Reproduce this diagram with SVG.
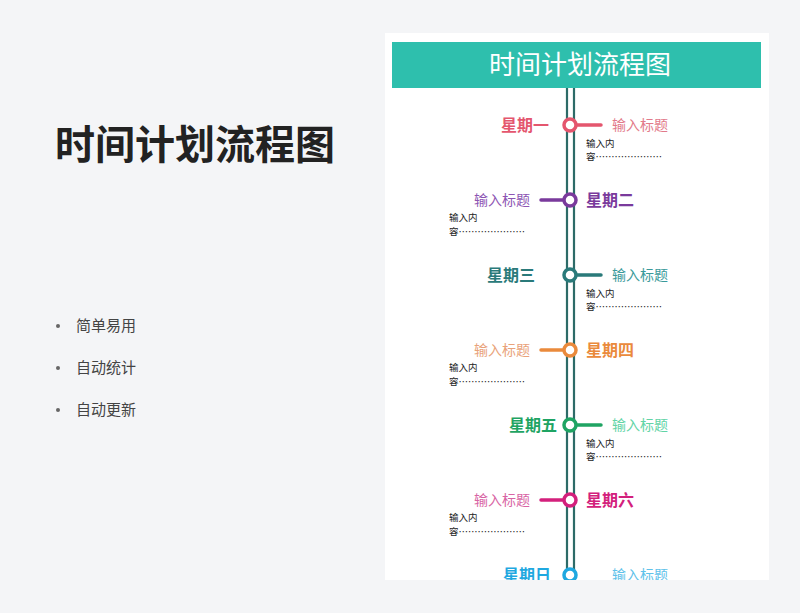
<svg xmlns="http://www.w3.org/2000/svg" width="800" height="613" viewBox="0 0 800 613">
<defs>
<style>
text{font-family:"Noto Sans CJK SC","Noto Sans",sans-serif}
.day{font-size:16px;font-weight:bold}
.tt{font-size:14px}
.ct{font-size:9.5px;fill:#222}
.rail{stroke:#2d6b68;stroke-width:2.2}
.dot{fill:#fff;stroke-width:3.5}
.stem{stroke-width:3.5;stroke-linecap:round}
</style>
<clipPath id="card"><rect x="385" y="33" width="384" height="547"/></clipPath>
</defs>
<rect width="800" height="613" fill="#f4f5f7"/>
<g id="left">
<text x="55" y="159" font-size="40" font-weight="bold" fill="#222">时间计划流程图</text>
<g font-size="15" fill="#444">
<circle cx="58" cy="326" r="2" fill="#666"/><text x="76" y="331">简单易用</text>
<circle cx="58" cy="368" r="2" fill="#666"/><text x="76" y="373">自动统计</text>
<circle cx="58" cy="410" r="2" fill="#666"/><text x="76" y="415">自动更新</text>
</g>
</g>
<rect x="385" y="33" width="384" height="547" fill="#fff"/>
<g clip-path="url(#card)">
<g id="header"><rect x="392" y="42" width="369" height="46" fill="#2ebfad"/>
<text x="580" y="74" font-size="26" fill="#fff" text-anchor="middle">时间计划流程图</text></g>
<g id="connectors">
<line class="rail" x1="567" y1="88" x2="567" y2="580"/>
<line class="rail" x1="574" y1="88" x2="574" y2="580"/>
</g>
<g id="mon"><line class="stem" x1="577" y1="125" x2="601" y2="125" stroke="#e4566e"/><circle class="dot" cx="570" cy="125" r="6" stroke="#e4566e"/>
<text class="day" x="549" y="131" text-anchor="end" fill="#e4566e">星期一</text><text class="tt" x="612" y="130" fill="#e27a8a">输入标题</text>
<text class="ct" x="586" y="147">输入内</text><text class="ct" x="586" y="160">容…………………</text></g>
<g id="tue"><line class="stem" x1="541" y1="200" x2="563" y2="200" stroke="#7a3a9c"/><circle class="dot" cx="570" cy="200" r="6" stroke="#7a3a9c"/>
<text class="day" x="586" y="206" fill="#7a3a9c">星期二</text><text class="tt" x="530" y="205" text-anchor="end" fill="#8d55b3">输入标题</text>
<text class="ct" x="449" y="221">输入内</text><text class="ct" x="449" y="235">容…………………</text></g>
<g id="wed"><line class="stem" x1="577" y1="275" x2="601" y2="275" stroke="#2a7a7a"/><circle class="dot" cx="570" cy="275" r="6" stroke="#2a7a7a"/>
<text class="day" x="535" y="281" text-anchor="end" fill="#2a7a7a">星期三</text><text class="tt" x="612" y="280" fill="#3a9a9a">输入标题</text>
<text class="ct" x="586" y="297">输入内</text><text class="ct" x="586" y="310">容…………………</text></g>
<g id="thu"><line class="stem" x1="541" y1="350" x2="563" y2="350" stroke="#ea8a3c"/><circle class="dot" cx="570" cy="350" r="6" stroke="#ea8a3c"/>
<text class="day" x="586" y="356" fill="#ea8a3c">星期四</text><text class="tt" x="530" y="355" text-anchor="end" fill="#e9a27a">输入标题</text>
<text class="ct" x="449" y="371">输入内</text><text class="ct" x="449" y="385">容…………………</text></g>
<g id="fri"><line class="stem" x1="577" y1="425" x2="601" y2="425" stroke="#1fa463"/><circle class="dot" cx="570" cy="425" r="6" stroke="#1fa463"/>
<text class="day" x="557" y="431" text-anchor="end" fill="#1fa463">星期五</text><text class="tt" x="612" y="430" fill="#62d4a6">输入标题</text>
<text class="ct" x="586" y="447">输入内</text><text class="ct" x="586" y="460">容…………………</text></g>
<g id="sat"><line class="stem" x1="541" y1="500" x2="563" y2="500" stroke="#d3207c"/><circle class="dot" cx="570" cy="500" r="6" stroke="#d3207c"/>
<text class="day" x="586" y="506" fill="#d3207c">星期六</text><text class="tt" x="530" y="505" text-anchor="end" fill="#d864a4">输入标题</text>
<text class="ct" x="449" y="521">输入内</text><text class="ct" x="449" y="535">容…………………</text></g>
<g id="sun"><circle class="dot" cx="570" cy="575" r="6" stroke="#1fa8e0"/>
<text class="day" x="551" y="581" text-anchor="end" fill="#1fa8e0">星期日</text><text class="tt" x="612" y="580" fill="#5fc2ea">输入标题</text></g>
</g>
</svg>
